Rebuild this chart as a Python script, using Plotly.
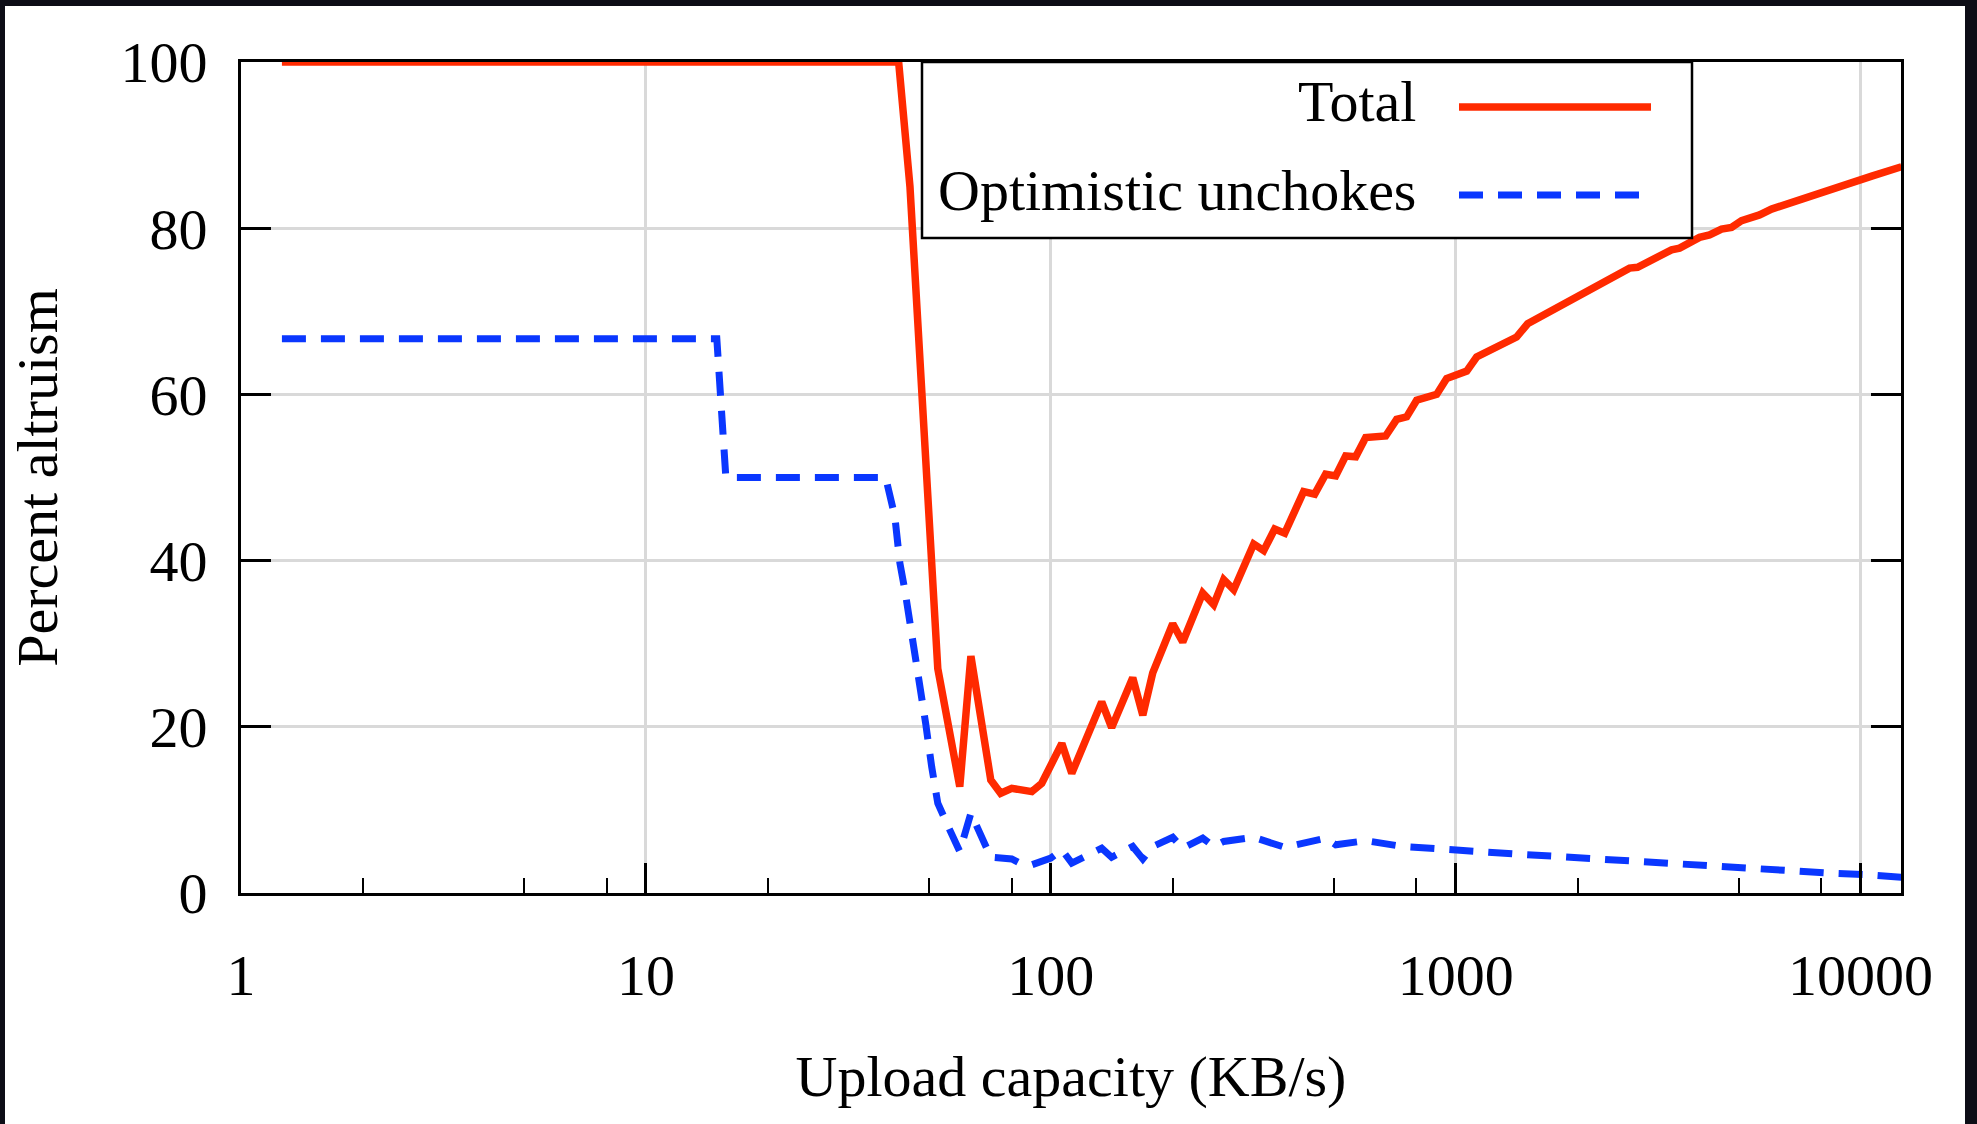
import plotly.graph_objects as go

# ---- data ----
upload_total = [1.262, 42.1, 44.9, 48.0, 50.0, 52.6, 59.6, 63.5, 71.1, 75.2, 80.1, 89.8, 95.0, 100,
                106.5, 112.7, 120, 133.6, 141.4, 159.4, 168.8, 178.6, 200.1, 211.8, 237.3, 252.6,
                267.4, 283.1, 317.1, 335.7, 357.4, 378.3, 421.3, 448.6, 477.5, 505.5, 535.1, 566.5,
                599.5, 671.7, 715.0, 756.9, 801.2, 897.6, 950.1, 1065, 1127, 1414, 1506, 2689, 2814,
                3415, 3574, 4004, 4238, 4537, 4803, 5084, 5632, 6029, 10706, 11333, 12626]
total = [100, 100, 85, 60, 43, 27, 12.8, 28.5, 13.6, 12.0, 12.6, 12.2, 13.2, 15.4,
         18.0, 14.4, 17.4, 23.0, 19.9, 25.9, 21.4, 26.5, 32.4, 30.2, 36.1, 34.7,
         37.7, 36.5, 42.0, 41.2, 43.8, 43.3, 48.3, 48.0, 50.4, 50.2, 52.6, 52.5,
         54.8, 55.0, 57.0, 57.3, 59.3, 60.0, 61.9, 62.8, 64.5, 66.9, 68.5, 75.2, 75.3,
         77.4, 77.6, 78.9, 79.2, 79.9, 80.1, 80.9, 81.6, 82.3, 86.3, 86.6, 87.4]

upload_opt = [1.262, 14.97, 15.76, 39.1, 41.2, 42.4, 43.6, 45.6, 47.5, 49.1, 50.8, 52.6, 56.3, 59.6,
              63.5, 71.1, 80.1, 85.3, 89.8, 100, 106.5, 112.7, 133.6, 141.4, 159.4, 168.8, 178.6,
              200.1, 211.8, 237.3, 252.6, 267.4, 317.1, 378.3, 477.5, 505.5, 599.5, 739.7, 913,
              1127, 1406, 1776, 2216, 2767, 3454, 4312, 5382, 6717, 8385, 10466, 12626]
optimistic = [66.7, 66.7, 50, 50, 45.3, 39.7, 36.5, 30.8, 25.6, 20.4, 15.2, 10.8, 7.6, 5.0,
              9.6, 4.3, 4.1, 3.4, 3.4, 4.2, 5.2, 3.6, 5.4, 4.3, 5.6, 4.1, 5.6,
              6.7, 5.4, 6.6, 5.6, 6.2, 6.7, 5.5, 6.6, 5.8, 6.3, 5.6, 5.3,
              5.1, 4.7, 4.4, 4.1, 3.7, 3.4, 3.1, 2.8, 2.6, 2.4, 2.2, 1.9]

x_major = [1, 10, 100, 1000, 10000]
x_major_labels = ["1", "10", "100", "1000", "10000"]
x_minor = [2, 5, 8, 20, 50, 80, 200, 500, 800, 2000, 5000, 8000]
y_ticks = [0, 20, 40, 60, 80, 100]

series_names = ["Total", "Optimistic unchokes"]

# ---- styling / layout ----
W, H = 1977, 1124
L, R, T, B = 241, 1901, 62, 893   # plot area in page pixels
FONT = "Liberation Serif, Times New Roman, serif"
FS = 58
RED = "#ff2a00"
BLUE = "#0a37ff"


def px(xp):
    return (xp - L) / (R - L)


def py(yp):
    return (B - yp) / (B - T)


fig = go.Figure()
fig.add_trace(go.Scatter(x=upload_total, y=total, mode="lines", name=series_names[0],
                         line=dict(color=RED, width=7.5), showlegend=False, cliponaxis=False))
fig.add_trace(go.Scatter(x=upload_opt, y=optimistic, mode="lines", name=series_names[1],
                         line=dict(color=BLUE, width=7, dash="24px,15px"), showlegend=False,
                         cliponaxis=False))

shapes = [
    # white page on dark screen
    dict(type="rect", xref="paper", yref="paper", x0=px(5), x1=px(1965), y0=py(1140), y1=py(6),
         fillcolor="white", line=dict(width=0), layer="below"),
    # legend box
    dict(type="rect", xref="paper", yref="paper", x0=px(922), x1=px(1692), y0=py(238), y1=py(62),
         fillcolor="white", line=dict(color="black", width=2.5), layer="above"),
    dict(type="line", xref="paper", yref="paper", x0=px(1459), x1=px(1651), y0=py(107), y1=py(107),
         line=dict(color=RED, width=7.5), layer="above"),
    dict(type="line", xref="paper", yref="paper", x0=px(1459), x1=px(1651), y0=py(195), y1=py(195),
         line=dict(color=BLUE, width=7, dash="24px,15px"), layer="above"),
]

annotations = [
    dict(text=series_names[0], xref="paper", yref="paper", x=px(1418), y=py(102),
         xanchor="right", yanchor="middle", showarrow=False,
         font=dict(family=FONT, size=FS, color="black")),
    dict(text=series_names[1], xref="paper", yref="paper", x=px(1418), y=py(190),
         xanchor="right", yanchor="middle", showarrow=False,
         font=dict(family=FONT, size=FS, color="black")),
]

fig.update_layout(
    width=W, height=H,
    margin=dict(l=L, r=W - R, t=T, b=H - B, pad=0),
    paper_bgcolor="#0d0d16",
    plot_bgcolor="white",
    font=dict(family=FONT, size=FS, color="black"),
    shapes=shapes,
    annotations=annotations,
    showlegend=False,
    xaxis=dict(
        type="log", range=[0, 4.1],
        tickmode="array", tickvals=x_major, ticktext=x_major_labels,
        ticks="inside", ticklen=30, tickwidth=2.5, tickcolor="black",
        minor=dict(tickmode="array", tickvals=x_minor, ticks="inside", ticklen=15,
                   tickwidth=2, tickcolor="black", showgrid=False),
        showgrid=True, gridcolor="#d9d9d9", gridwidth=2.5,
        showline=True, linecolor="black", linewidth=3, mirror=True,
        zeroline=False,
        ticklabelstandoff=29,
        tickfont=dict(family=FONT, size=FS, color="black"),
        title=dict(text="Upload capacity (KB/s)", standoff=49,
                   font=dict(family=FONT, size=FS, color="black")),
    ),
    yaxis=dict(
        range=[0, 100],
        tickmode="array", tickvals=y_ticks,
        ticks="inside", ticklen=30, tickwidth=2.5, tickcolor="black",
        showgrid=True, gridcolor="#d9d9d9", gridwidth=2.5,
        showline=True, linecolor="black", linewidth=3, mirror="ticks",
        zeroline=False,
        ticklabelstandoff=19,
        tickfont=dict(family=FONT, size=FS, color="black"),
        title=dict(text="Percent altruism", standoff=45,
                   font=dict(family=FONT, size=FS, color="black")),
    ),
)

fig.write_html(
    "out.html",
    config={"displayModeBar": False},
    post_script="document.body.style.margin='0';document.body.style.overflow='hidden';",
)
